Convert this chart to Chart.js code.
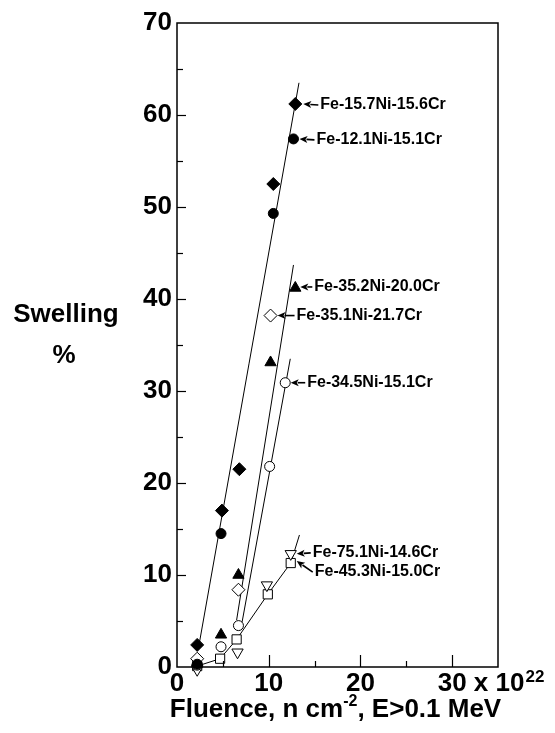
<!DOCTYPE html>
<html>
<head>
<meta charset="utf-8">
<script src="https://cdn.jsdelivr.net/npm/chart.js@4.4.1/dist/chart.umd.min.js"></script>
<style>
  html, body { margin: 0; padding: 0; background: #fff; }
  #c { display: block; }
</style>
</head>
<body>
<canvas id="c" width="555" height="733"></canvas>
<script>
// Swelling vs. neutron fluence for Fe-Ni-Cr alloys
const alloyNames = [
  'Fe-15.7Ni-15.6Cr',
  'Fe-12.1Ni-15.1Cr',
  'Fe-35.2Ni-20.0Cr',
  'Fe-35.1Ni-21.7Cr',
  'Fe-34.5Ni-15.1Cr',
  'Fe-75.1Ni-14.6Cr',
  'Fe-45.3Ni-15.0Cr'
];

// fluence in units of 10^22 n/cm^2, swelling in %
const fluence157 = [2.2, 4.9, 6.8, 10.5, 12.9];
const swelling157 = [2.4, 17.0, 21.5, 52.5, 61.2];

const fluence121 = [2.2, 4.8, 10.5, 12.7];
const swelling121 = [0.3, 14.5, 49.3, 57.4];

const fluence352 = [2.2, 4.8, 6.7, 10.2, 12.9];
const swelling352 = [0.5, 3.5, 10.0, 33.1, 41.2];

const fluence351 = [2.2, 6.7, 10.2];
const swelling351 = [0.9, 8.4, 38.2];

const fluence345 = [2.2, 4.8, 6.7, 10.1, 11.8];
const swelling345 = [0.2, 2.2, 4.5, 21.8, 30.9];

const fluence751 = [2.2, 6.6, 9.8, 12.4];
const swelling751 = [-0.3, 1.6, 8.9, 12.3];

const fluence453 = [2.2, 4.7, 6.5, 9.9, 12.4];
const swelling453 = [0.1, 0.9, 3.0, 7.9, 11.3];

// trend lines
const trendLowNiX = [2.4, 13.3];
const trendLowNiY = [2.4, 63.5];
const trend35NiCrX = [6.5, 12.7];
const trend35NiCrY = [5.1, 43.7];
const trend345NiX = [7.1, 12.35];
const trend345NiY = [4.9, 33.5];
const trendHighNiX = [12.4, 13.35];
const trendHighNiY = [11.3, 14.35];

const xTickValues = [0, 10, 20, 30];
const yTickValues = [0, 10, 20, 30, 40, 50, 60, 70];

const FONT = '"Liberation Sans", Arial, Helvetica, sans-serif';
const BIG = 26;

function pts(xs, ys) { return xs.map((x, i) => ({ x: x, y: ys[i] })); }

function marker(label, xs, ys, style, radius, filled, extra) {
  return Object.assign({
    label: label,
    data: pts(xs, ys),
    showLine: false,
    pointStyle: style,
    pointRadius: radius,
    pointHoverRadius: radius,
    pointBackgroundColor: filled ? '#000' : '#fff',
    pointBorderColor: '#000',
    pointBorderWidth: 1,
    clip: false,
    order: 0
  }, extra || {});
}

function trend(xs, ys) {
  return {
    data: pts(xs, ys),
    showLine: true,
    pointRadius: 0,
    borderColor: '#000',
    borderWidth: 1,
    fill: false,
    clip: false,
    order: 10
  };
}

const datasets = [
  marker(alloyNames[0], fluence157, swelling157, 'rectRot', 6.5, true),
  marker(alloyNames[1], fluence121, swelling121, 'circle', 5, true),
  marker(alloyNames[3], fluence351, swelling351, 'rectRot', 6.5, false),
  marker(alloyNames[2], fluence352, swelling352, 'triangle', 6.5, true),
  marker(alloyNames[4], fluence345, swelling345, 'circle', 5, false),
  marker(alloyNames[6], fluence453, swelling453, 'rect', 6.5, false,
         { showLine: true, borderColor: '#000', borderWidth: 1, order: 1 }),
  marker(alloyNames[5], fluence751, swelling751, 'triangle', 6.5, false,
         { pointRotation: 180 }),
  trend(trendLowNiX, trendLowNiY),
  trend(trend35NiCrX, trend35NiCrY),
  trend(trend345NiX, trend345NiY),
  trend(trendHighNiX, trendHighNiY)
];

// callouts: dataset index, point index, text offset x/y, arrow tip offset x/y
const callouts = [
  [0, 4, 25, 1, 8, 0],
  [1, 3, 23, 1, 6, 0],
  [3, 4, 19, -1, 5, -1],
  [2, 2, 26, 0, 7, 0],
  [4, 4, 22, 0, 5.5, 0],
  [6, 3, 22, -1, 6, 0],
  [5, 4, 24, 9, 6, -2]
];

function drawArrow(ctx, x1, y1, x2, y2) {
  const ang = Math.atan2(y2 - y1, x2 - x1);
  const hl = 8, hw = 3.5;
  const bx = x2 - hl * Math.cos(ang), by = y2 - hl * Math.sin(ang);
  ctx.lineWidth = 1.6;
  ctx.beginPath();
  ctx.moveTo(x1, y1);
  ctx.lineTo(bx + 1 * Math.cos(ang), by + 1 * Math.sin(ang));
  ctx.stroke();
  ctx.beginPath();
  ctx.moveTo(x2, y2);
  ctx.lineTo(bx + hw * Math.sin(ang), by - hw * Math.cos(ang));
  ctx.lineTo(bx + 2 * Math.cos(ang), by + 2 * Math.sin(ang));
  ctx.lineTo(bx - hw * Math.sin(ang), by + hw * Math.cos(ang));
  ctx.closePath();
  ctx.fill();
}

const decorations = {
  id: 'decorations',
  afterDraw(chart) {
    const ctx = chart.ctx;
    const a = chart.chartArea;
    const xs = chart.scales.x, ys = chart.scales.y;
    ctx.save();
    ctx.strokeStyle = '#000';
    ctx.fillStyle = '#000';

    // plot frame
    ctx.lineWidth = 1.5;
    ctx.strokeRect(a.left, a.top, a.right - a.left, a.bottom - a.top);

    // inward tick marks every 5 units
    ctx.lineWidth = 1.2;
    for (let v = 5; v < xs.max; v += 5) {
      const px = Math.round(xs.getPixelForValue(v)) + 0.5;
      const len = v % 10 === 0 ? 12 : 6;
      ctx.beginPath(); ctx.moveTo(px, a.bottom); ctx.lineTo(px, a.bottom - len); ctx.stroke();
    }
    for (let v = 5; v < ys.max; v += 5) {
      const py = Math.round(ys.getPixelForValue(v)) + 0.5;
      const len = v % 10 === 0 ? 9 : 6;
      ctx.beginPath(); ctx.moveTo(a.left, py); ctx.lineTo(a.left + len, py); ctx.stroke();
    }

    // exponent after the last x tick label
    const lastTick = xTickValues[xTickValues.length - 1];
    ctx.font = 'bold ' + BIG + 'px ' + FONT;
    ctx.textBaseline = 'alphabetic';
    ctx.textAlign = 'left';
    const tx = xs.getPixelForValue(lastTick) + ctx.measureText(String(lastTick)).width / 2;
    const base = a.bottom + 24;
    const mult = ' x 10';
    ctx.fillText(mult, tx, base);
    const mw = ctx.measureText(mult).width;
    ctx.font = 'bold 17px ' + FONT;
    ctx.fillText('22', tx + mw + 1, base - 9);

    // x axis title with superscript
    const t1 = 'Fluence, n cm', t2 = '-2', t3 = ', E>0.1 MeV';
    ctx.font = 'bold ' + BIG + 'px ' + FONT;
    const w1 = ctx.measureText(t1).width, w3 = ctx.measureText(t3).width;
    ctx.font = 'bold 16px ' + FONT;
    const w2 = ctx.measureText(t2).width;
    const total = w1 + w2 + w3;
    let cx = (a.left + a.right) / 2 - total / 2 - 2;
    const tb = a.bottom + 50;
    ctx.font = 'bold ' + BIG + 'px ' + FONT;
    ctx.fillText(t1, cx, tb);
    ctx.font = 'bold 16px ' + FONT;
    ctx.fillText(t2, cx + w1, tb - 11);
    ctx.font = 'bold ' + BIG + 'px ' + FONT;
    ctx.fillText(t3, cx + w1 + w2, tb);

    // y axis title
    ctx.textAlign = 'center';
    ctx.font = 'bold ' + BIG + 'px ' + FONT;
    ctx.fillText('Swelling', 66, 322);
    ctx.fillText('%', 64, 363);

    // callout labels with arrows
    ctx.font = 'bold 16px ' + FONT;
    ctx.textAlign = 'left';
    ctx.textBaseline = 'middle';
    callouts.forEach(c => {
      const meta = chart.getDatasetMeta(c[0]);
      const el = meta.data[c[1]];
      const px = el.x, py = el.y;
      const lx = px + c[2], ly = py + c[3];
      ctx.fillText(chart.data.datasets[c[0]].label, lx, ly);
      drawArrow(ctx, lx - 2, ly, px + c[4], py + c[5]);
    });

    ctx.restore();
  }
};

new Chart(document.getElementById('c'), {
  type: 'scatter',
  data: { datasets: datasets },
  options: {
    responsive: false,
    animation: false,
    events: [],
    layout: { padding: { left: 0, top: 23, right: 57, bottom: 0 } },
    plugins: { legend: { display: false }, tooltip: { enabled: false } },
    scales: {
      x: {
        type: 'linear',
        min: 0, max: 35,
        afterFit: s => { s.height = 66; },
        afterBuildTicks: s => { s.ticks = xTickValues.map(v => ({ value: v })); },
        grid: { display: false, drawTicks: false },
        border: { display: false },
        ticks: {
          padding: 3,
          color: '#000',
          font: { family: FONT, size: BIG, weight: 'bold', lineHeight: 1.1 },
          maxRotation: 0,
          autoSkip: false,
          callback: v => String(v)
        }
      },
      y: {
        type: 'linear',
        min: 0, max: 70,
        afterFit: s => { s.width = 177; },
        afterBuildTicks: s => { s.ticks = yTickValues.map(v => ({ value: v })); },
        grid: { display: false, drawTicks: false },
        border: { display: false },
        ticks: {
          padding: 5,
          color: '#000',
          font: { family: FONT, size: BIG, weight: 'bold' },
          autoSkip: false,
          callback: v => String(v)
        }
      }
    }
  },
  plugins: [decorations]
});
</script>
</body>
</html>
